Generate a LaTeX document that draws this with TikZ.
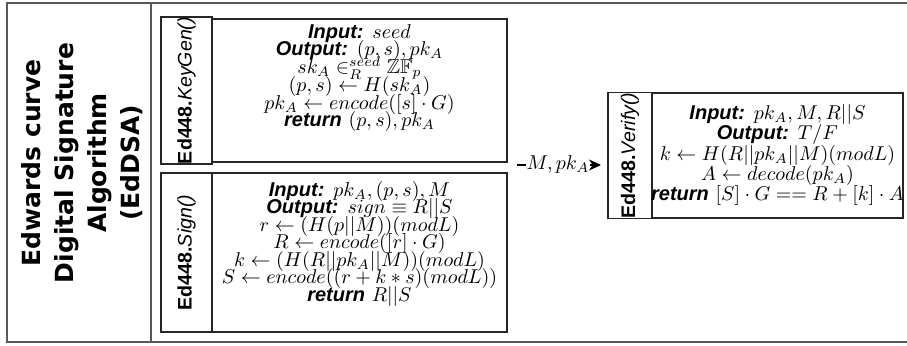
\documentclass[tikz,border=0pt]{standalone}
\usepackage{amssymb}
\usepackage{fontspec}
\newfontfamily\labfont{Liberation Sans}
\newfontfamily\titlefont{DejaVu Sans}
\usetikzlibrary{arrows.meta}
\newcommand\kw[1]{{\labfont\bfseries\itshape #1}}
\lineskiplimit=-20pt
\lineskip=0pt
\tikzset{
  frame/.style={draw=black!65, line width=1pt},
  box/.style={draw=black!85, line width=0.6pt, inner sep=0pt, rectangle},
  lab/.style={box, rotate=90, font=\labfont\fontsize{9.8}{11}\selectfont},
  body/.style={align=center, inner sep=0pt, anchor=north},
  bodya/.style={font=\fontsize{10}{8.85}\selectfont},
  bodyb/.style={font=\fontsize{10}{8.75}\selectfont},
  bodyc/.style={font=\fontsize{10}{10.2}\selectfont},
  conn/.style={line width=0.6pt},
}
\begin{document}
\begin{tikzpicture}[x=0.5pt, y=-0.5pt]
\useasboundingbox (0,0) rectangle (907,346);
\fill[white] (0,0) rectangle (907,346);
% outer frame
\draw[frame] (7,3) rectangle (910,342);
\draw[frame] (151,3) -- (151,342);
% title
\node[rotate=90, align=center, inner sep=0pt,
      font=\titlefont\bfseries\fontsize{12.5}{16.5}\selectfont] (title) at (82,163)
  {Edwards curve\\Digital Signature\\Algorithm\\(EdDSA)};
% KeyGen
\node[lab, minimum width=71.5pt, minimum height=25.5pt] (kgl) at (186.5,90.5)
  {\textbf{Ed448.}\textit{KeyGen()}};
\node[box, minimum width=147.5pt, minimum height=71.5pt] (kgb) at (359.5,90.5) {};
\node[body, bodya] (kgt) at (359.5,24) {%
  \kw{Input:} $seed$\\
  \kw{Output:} $(p,s), pk_A$\\
  $sk_A \in_R^{seed} \mathbb{ZF}_p$\\
  $(p,s) \leftarrow H(sk_A)$\\
  $pk_A \leftarrow encode([s]\cdot G)$\\
  \kw{return} $(p,s), pk_A$};
% Sign
\node[lab, minimum width=79.5pt, minimum height=25.5pt] (sgl) at (186.5,252.5)
  {\textbf{Ed448.}\textit{Sign()}};
\node[box, minimum width=147.5pt, minimum height=79.5pt] (sgb) at (359.5,252.5) {};
\node[body, bodyb] (sgt) at (359.5,181) {%
  \kw{Input:} $pk_A, (p,s), M$\\
  \kw{Output:} $sign \equiv R||S$\\
  $r \leftarrow (H(p||M))(modL)$\\
  $R \leftarrow encode([r]\cdot G)$\\
  $k \leftarrow (H(R||pk_A||M))(modL)$\\
  $S \leftarrow encode((r+k*s)(modL))$\\
  \kw{return} $R||S$};
% Verify
\node[lab, minimum width=62.5pt, minimum height=22pt] (vfl) at (630,155.5)
  {\textbf{Ed448.}\textit{Verify()}};
\node[box, minimum width=125.5pt, minimum height=62.5pt] (vfb) at (777.5,155.5) {};
\node[body, bodyc] (vft) at (777.5,104) {%
  \kw{Input:} $pk_A, M, R||S$\\
  \kw{Output:} $T/F$\\
  $k \leftarrow H(R||pk_A||M)(modL)$\\
  $A \leftarrow decode(pk_A)$\\
  \kw{return} $[S]\cdot G == R + [k]\cdot A$};
% connector
\coordinate (src) at (517,165);
\node[inner sep=0pt, font=\fontsize{10}{11}\selectfont] (arrlab) at (558,165) {$M, pk_A$};
\coordinate (dst) at (601,165);
\draw[conn] (src) -- (arrlab.west);
\draw[conn, -{Stealth[length=6pt,width=5.5pt,inset=1.8pt]}] (arrlab.east) -- (dst);
\end{tikzpicture}
\end{document}
